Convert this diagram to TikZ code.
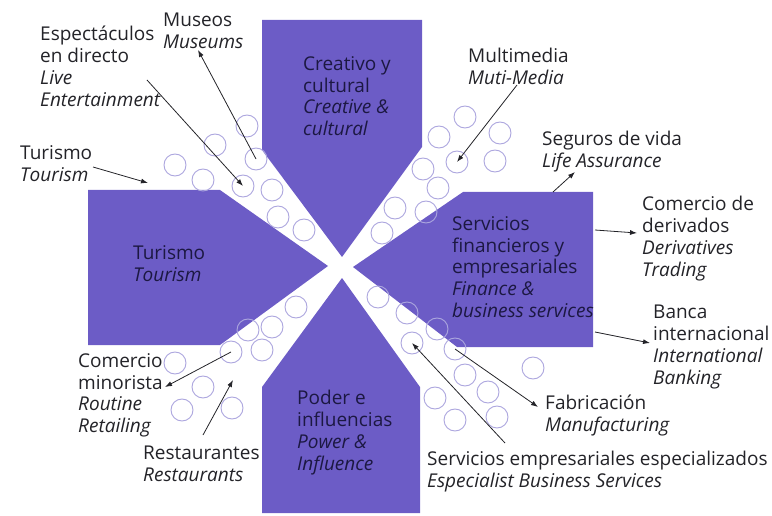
\documentclass[tikz,border=0pt]{standalone}
\usepackage{xcolor}
\usepackage{fontspec}
\setmainfont{Open Sans}
\usepackage{tikz}
\definecolor{violetp}{RGB}{108,92,198}
\definecolor{lavande}{RGB}{172,166,222}
\definecolor{encre}{RGB}{35,35,40}
\definecolor{nuit}{RGB}{28,24,66}
\usetikzlibrary{shapes,arrows,arrows.meta}
\tikzset{
  bulle/.style={circle, draw=lavande, line width=0.9pt, minimum size=22pt, inner sep=0pt},
  etiq/.style={anchor=north west, inner sep=0pt, align=left, text=encre,
    font=\fontsize{19}{21.9}\selectfont},
  dedans/.style={etiq, text=nuit},
  fleche/.style={-{Latex[length=7pt,width=5pt]}, draw=encre, line width=0.8pt}
}

\begin{document}
\begin{tikzpicture}[x=1pt,y=-1pt]
        \useasboundingbox (0,0) rectangle (772,516);
        \fill[violetp] (262,20) -- (422,20) -- (422,147) -- (342,257) -- (262,150) -- cycle;
        \fill[violetp] (88,190) -- (220,190) -- (328,266) -- (220,345) -- (88,345) -- cycle;
        \fill[violetp] (463,192) -- (593,192) -- (593,347) -- (457,347) -- (353,267) -- cycle;
        \fill[violetp] (262,513) -- (262,387) -- (342,278) -- (420,387) -- (420,513) -- cycle;
        \foreach \x/\y/\n in {247/126/a1, 215/145/a2, 256/159/a3, 175/165/a4, 203/180/a5,
            243/186/a6, 272/190/a7, 278/217/a8, 304/230/a9,
            465/117/b1, 439/137/b2, 500/133/b3, 457/162/b4, 495/161/b5, 423/169/b6,
            438/188/b7, 395/208/b8, 426/212/b9, 382/233/b10,
            296/307/c1, 272/327/c2, 248/330/c3, 231/352/c4, 262/350/c5, 175/363/c6,
            203/387/c7, 182/410/c8, 232/408/c9,
            378/297/d1, 407/313/d2, 437/329/d3, 412/343/d4, 455/349/d5, 533/368/d6,
            465/375/d7, 435/398/d8, 488/392/d9, 455/420/d10, 497/417/d11}
          \node[bulle] (\n) at (\x,\y) {};
        \node[dedans] (creatif) at (303,56) {Creativo y\\cultural\\\textit{Creative \&}\\\textit{cultural}};
        \node[dedans] (tourisme) at (133,245) {Turismo\\\textit{Tourism}};
        \node[dedans] (finance) at (452,216) {Servicios\\financieros y\\empresariales\\\textit{Finance \&}\\\textit{business services}};
        \node[dedans] (pouvoir) at (297,390) {Poder e\\influencias\\\textit{Power \&}\\\textit{Influence}};
        \node[etiq] (musees) at (163,13) {Museos\\\textit{Museums}};
        \node[etiq] (spectacles) at (40,26) {Espectáculos\\en directo\\\textit{Live}\\\textit{Entertainment}};
        \node[etiq] (turismo) at (20,145) {Turismo\\\textit{Tourism}};
        \node[etiq] (multimedia) at (468,48) {Multimedia\\\textit{Muti-Media}};
        \node[etiq] (assurance) at (542,131) {Seguros de vida\\\textit{Life Assurance}};
        \node[etiq] (derives) at (642,196) {Comercio de\\derivados\\\textit{Derivatives}\\\textit{Trading}};
        \node[etiq] (banque) at (653,305) {Banca\\internacional\\\textit{International}\\\textit{Banking}};
        \node[etiq] (fabrication) at (545,395) {Fabricación\\\textit{Manufacturing}};
        \node[etiq] (specialistes) at (427,451) {Servicios empresariales especializados\\\textit{Especialist Business Services}};
        \node[etiq] (detail) at (78,353) {Comercio\\minorista\\\textit{Routine}\\\textit{Retailing}};
        \node[etiq] (restos) at (143,446) {Restaurantes\\\textit{Restaurants}};
        \coordinate (musees-p) at (198,50);
        \coordinate (spectacles-p) at (147,80);
        \coordinate (turismo-p) at (93,167);
        \coordinate (turismo-q) at (148,183);
        \coordinate (multimedia-p) at (517,85);
        \coordinate (assurance-p) at (553,192);
        \coordinate (assurance-q) at (575,172);
        \coordinate (derives-p) at (595,230);
        \coordinate (derives-q) at (637,233);
        \coordinate (banque-p) at (595,332);
        \coordinate (banque-q) at (650,343);
        \coordinate (fabrication-q) at (538,407);
        \coordinate (specialistes-p) at (505,443);
        \coordinate (detail-q) at (165,387);
        \coordinate (restos-p) at (203,435);
        \coordinate (restos-q) at (233,380);
        \draw[fleche] (a3.center) -- (musees-p);
        \draw[fleche] (spectacles-p) -- (a6.center);
        \draw[fleche] (turismo-p) -- (turismo-q);
        \draw[fleche] (multimedia-p) -- (b4.center);
        \draw[fleche] (assurance-p) -- (assurance-q);
        \draw[fleche] (derives-p) -- (derives-q);
        \draw[fleche] (banque-p) -- (banque-q);
        \draw[fleche] (d5.center) -- (fabrication-q);
        \draw[fleche] (specialistes-p) -- (d4.center);
        \draw[fleche] (c4.center) -- (detail-q);
        \draw[fleche] (restos-p) -- (restos-q);
      \end{tikzpicture}
\end{document}
